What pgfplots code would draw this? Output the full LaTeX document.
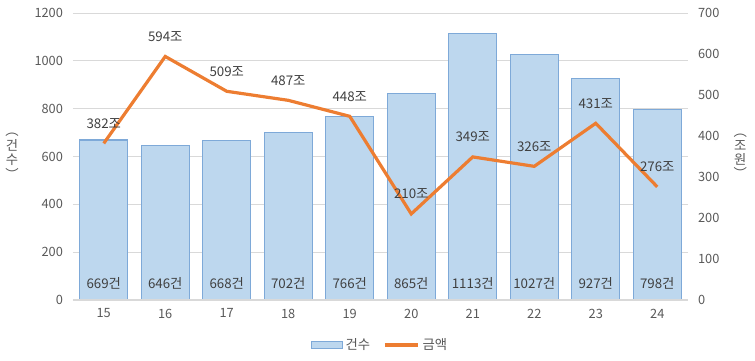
\documentclass[border=0pt]{standalone}
\usepackage{pgfplots}
\pgfplotsset{compat=1.18}
\usepackage{fontspec}
\setmainfont{Noto Sans CJK KR}
\usetikzlibrary{calc}
\definecolor{barfill}{HTML}{BDD7EE}
\definecolor{bardraw}{HTML}{7EA9D8}
\definecolor{lineor}{HTML}{ED7D31}
\definecolor{tick}{HTML}{595959}
\definecolor{lab}{HTML}{404040}
\definecolor{gridc}{HTML}{D9D9D9}
\begin{document}
\begin{tikzpicture}
\pgfplotsset{
  base/.style={
    scale only axis, width=461.25pt, height=215.25pt,
    at={(0,0)}, anchor=south west,
    xmin=-0.5, xmax=9.5,
    major tick length=0pt,
    tick label style={font=\fontsize{9.6}{10}\selectfont, text=tick},
    /pgf/number format/assume math mode=true,
    /pgf/number format/1000 sep={},
    clip=false,
  }
}
\begin{axis}[base, name=ax,
  ymin=0, ymax=1200, ytick={0,200,...,1200},
  ymajorgrids, grid style={gridc, line width=0.7pt},
  axis x line*=bottom, axis y line*=left,
  x axis line style={gridc, line width=0.7pt, -},
  y axis line style={draw=none},
  xtick={0,...,9}, xticklabels={15,16,17,18,19,20,21,22,23,24},
  xticklabel style={yshift=-3pt},
  yticklabel style={xshift=-4pt},
  ylabel={\shortstack{︵\\[-1pt]건\\[-1pt]수\\[-1pt]︶}},
  ylabel style={rotate=-90, at={(axis description cs:-0.099,0.5)}, anchor=center, font=\fontsize{10}{11}\selectfont, text=tick},
]
\addplot[ybar, bar width=36pt, bar shift=0pt, fill=barfill, draw=bardraw, line width=0.8pt]
  coordinates {(0,669) (1,646) (2,668) (3,702) (4,766) (5,865) (6,1113) (7,1027) (8,927) (9,798)};
\draw[gridc, line width=0.9pt] (axis cs:-0.5,0) -- (axis cs:9.5,0);
\addplot[draw=none, mark=none, nodes near coords={\pgfmathprintnumber{\pgfplotspointmeta}건},
  point meta=explicit,
  every node near coord/.style={anchor=center, font=\fontsize{10}{11}\selectfont, text=lab}]
  coordinates {(0,70)[669] (1,70)[646] (2,70)[668] (3,70)[702] (4,70)[766] (5,70)[865] (6,70)[1113] (7,70)[1027] (8,70)[927] (9,70)[798]};
\end{axis}
\begin{axis}[base,
  ymin=0, ymax=700, ytick={0,100,...,700},
  axis x line=none, axis y line*=right,
  y axis line style={draw=none},
  yticklabel style={xshift=4pt},
  ylabel={\shortstack{︵\\[-1pt]조\\[-1pt]원\\[-1pt]︶}},
  ylabel style={rotate=-90, at={(axis description cs:1.085,0.5)}, anchor=center, font=\fontsize{10}{11}\selectfont, text=tick},
  legend style={draw=none, at={(0.5,-0.157)}, anchor=center, legend columns=2,
    font=\fontsize{10}{11}\selectfont, text=tick,
    /tikz/every even column/.append style={column sep=8pt}},
]
\addlegendimage{legend image code/.code={\draw[fill=barfill, draw=bardraw, line width=0.7pt] (0pt,-2.4pt) rectangle (23pt,2.4pt);}}
\addlegendentry{건수}
\addplot[lineor, line width=2.4pt, mark=none,
  legend image code/.code={\draw[lineor, line width=2.4pt] (0pt,0pt) -- (25pt,0pt);},
  nodes near coords={\pgfmathprintnumber{\pgfplotspointmeta}조},
  every node near coord/.style={anchor=center, yshift=15pt, font=\fontsize{10}{11}\selectfont, text=lab}]
  coordinates {(0,382) (1,594) (2,509) (3,487) (4,448) (5,210) (6,349) (7,326) (8,431) (9,276)};
\addlegendentry{금액}
\end{axis}
\path[use as bounding box] ($(ax.south west)+(-54.75pt,-45pt)$) rectangle ($(ax.north east)+(50.25pt,9.75pt)$);
\end{tikzpicture}
\end{document}
